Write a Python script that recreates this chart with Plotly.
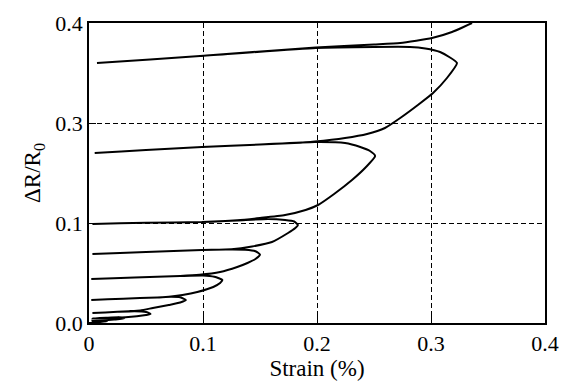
import numpy as np
import plotly.graph_objects as go

# Strain (%) along the measured path (loading / unloading cycles)
strain_pct = [
    # cycle A
    0.000, 0.008, 0.016, 0.013, 0.003,
    # cycle B
    0.012, 0.022, 0.031, 0.027, 0.015, 0.003,
    # cycle C
    0.020, 0.032, 0.042, 0.050, 0.054, 0.050, 0.040, 0.025, 0.003,
    # cycle D
    0.025, 0.035, 0.045, 0.056, 0.070, 0.080, 0.085, 0.080, 0.072, 0.060, 0.030, 0.002,
    # cycle E
    0.030, 0.060, 0.072, 0.082, 0.095, 0.109, 0.115, 0.117, 0.110, 0.100, 0.080, 0.040, 0.002,
    # cycle F
    0.040, 0.080, 0.097, 0.115, 0.130, 0.139, 0.146, 0.150, 0.146, 0.137, 0.120, 0.099, 0.050, 0.003,
    # cycle G
    0.050, 0.099, 0.125, 0.143, 0.1605, 0.1746, 0.181, 0.1833, 0.180, 0.172, 0.157, 0.130, 0.099, 0.050, 0.003,
    # cycle H
    0.050, 0.099, 0.130, 0.150, 0.172, 0.190, 0.2009, 0.215, 0.2307, 0.243, 0.251,
    0.2465, 0.238, 0.2246, 0.198, 0.150, 0.099, 0.050, 0.005,
    # cycle I
    0.050, 0.099, 0.150, 0.180, 0.198, 0.2246, 0.2439, 0.2596, 0.273, 0.2885, 0.3018, 0.314, 0.3228,
    0.316, 0.308, 0.295, 0.2816, 0.250, 0.199, 0.0974, 0.007,
    # final loading
    0.0974, 0.199, 0.250, 0.273, 0.3009, 0.3184, 0.336,
]

# Delta R / R0 along the same path
dr_r0 = [
    0.0000, 0.0008, 0.0018, 0.0025, 0.0020,
    0.0026, 0.0035, 0.0045, 0.0056, 0.0052, 0.0045,
    0.0052, 0.0058, 0.0068, 0.0080, 0.0090, 0.0110, 0.0118, 0.0112, 0.0100,
    0.0112, 0.0118, 0.0126, 0.0150, 0.0180, 0.0205, 0.0230, 0.0258, 0.0263, 0.0256, 0.0243, 0.0230,
    0.0243, 0.0256, 0.0265, 0.0280, 0.0310, 0.0360, 0.0400, 0.0430, 0.0462, 0.0475, 0.0470, 0.0455, 0.0440,
    0.0455, 0.0470, 0.0482, 0.0510, 0.0560, 0.0600, 0.0640, 0.0685, 0.0718, 0.0733, 0.0735, 0.0730, 0.0710, 0.0690,
    0.0710, 0.0730, 0.0737, 0.0765, 0.0810, 0.0900, 0.0950, 0.0980, 0.1030, 0.1060, 0.1080, 0.1050, 0.1020, 0.1005, 0.0990,
    0.1005, 0.1020, 0.1055, 0.1100, 0.1160, 0.1260, 0.1360, 0.1580, 0.1860, 0.2120, 0.2340,
    0.2440, 0.2520, 0.2600, 0.2620, 0.2570, 0.2520, 0.2460, 0.2400,
    0.2460, 0.2520, 0.2570, 0.2600, 0.2630, 0.2700, 0.2780, 0.2900, 0.3050, 0.3180, 0.3300, 0.3450, 0.3600,
    0.3660, 0.3710, 0.3745, 0.3760, 0.3760, 0.3750, 0.3670, 0.3600,
    0.3670, 0.3755, 0.3785, 0.3800, 0.3850, 0.3910, 0.4000,
]

x_tick_values = [0.0, 0.1, 0.2, 0.3, 0.4]
x_tick_text = ["0", "0.1", "0.2", "0.3", "0.4"]
y_tick_values = [0.0, 0.1, 0.3, 0.4]
y_tick_text = ["0.0", "0.1", "0.3", "0.4"]

# the printed y axis has equally spaced ticks labelled 0.0, 0.1, 0.3, 0.4
y_slots = list(range(len(y_tick_values)))
y_pos = np.interp(dr_r0, y_tick_values, y_slots)

FONT = "Liberation Serif"

fig = go.Figure()
fig.add_trace(go.Scatter(
    x=strain_pct, y=y_pos, mode="lines",
    line=dict(color="black", width=2, shape="spline", smoothing=0.5),
    showlegend=False,
))

axis_common = dict(
    showline=True, linecolor="black", linewidth=1.5, mirror=True,
    showgrid=True, gridcolor="black", gridwidth=1, griddash="5px,3px",
    ticks="inside", ticklen=7, tickcolor="black", tickwidth=1,
    zeroline=False, automargin=False,
    tickfont=dict(family=FONT, size=22, color="black"),
)

fig.update_layout(
    width=559, height=375,
    margin=dict(l=81, r=22, t=15, b=60),
    paper_bgcolor="white", plot_bgcolor="white",
    font=dict(family=FONT, size=22, color="black"),
    xaxis=dict(
        range=[0, 0.4], tickvals=x_tick_values, ticktext=x_tick_text,
        title=dict(text="Strain (%)", font=dict(family=FONT, size=23, color="black"), standoff=2),
        **axis_common,
    ),
    yaxis=dict(
        range=[0, y_slots[-1]], tickvals=y_slots, ticktext=y_tick_text,
        title=dict(text="ΔR/R<sub>0</sub>", font=dict(family=FONT, size=23, color="black"), standoff=8),
        **axis_common,
    ),
)

fig.write_html("out.html")
